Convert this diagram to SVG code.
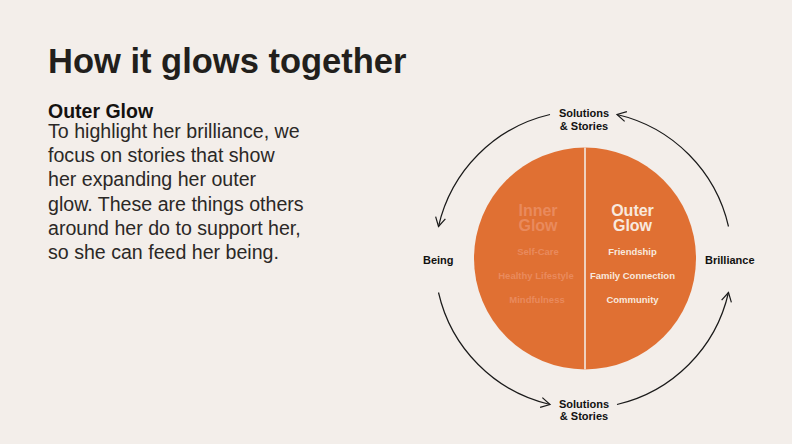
<svg xmlns="http://www.w3.org/2000/svg" width="792" height="444" viewBox="0 0 792 444">
  <style>
    .title { font-family: "Liberation Sans", Arial, sans-serif; font-weight: bold; font-size: 34.5px; fill: #221f1c; }
    .sub { font-family: "Liberation Sans", Arial, sans-serif; font-weight: bold; font-size: 19.5px; fill: #141210; }
    .body { font-family: "Liberation Sans", Arial, sans-serif; font-size: 19.6px; fill: #2b2826; }
    .lbl { font-family: "Liberation Sans", Arial, sans-serif; font-weight: bold; font-size: 11px; fill: #111; }
    .head { font-family: "Liberation Sans", Arial, sans-serif; font-weight: bold; font-size: 16px; text-anchor: middle; }
    .item { font-family: "Liberation Sans", Arial, sans-serif; font-weight: bold; font-size: 9.5px; text-anchor: middle; }
    .faded { fill: #e98a5d; }
    .bright { fill: #f8e9de; }
    .arc { fill: none; stroke: #1a1a1a; stroke-width: 1.2; }
  </style>
  <defs>
    <marker id="chev" markerUnits="userSpaceOnUse" markerWidth="14" markerHeight="14" viewBox="-12 -7 14 14" refX="0" refY="0" orient="auto">
      <path d="M -9 -5 L 0 0 L -9 5" fill="none" stroke="#1a1a1a" stroke-width="1.2"/>
    </marker>
  </defs>
  <rect width="792" height="444" fill="#f3eeea"/>

  <g id="heading">
    <text class="title" x="48" y="73">How it glows together</text>
    <text class="sub" x="48" y="118">Outer Glow</text>
    <text class="body" x="48" y="138">To highlight her brilliance, we</text>
    <text class="body" x="48" y="162.2">focus on stories that show</text>
    <text class="body" x="48" y="186.4">her expanding her outer</text>
    <text class="body" x="48" y="210.6">glow. These are things others</text>
    <text class="body" x="48" y="234.8">around her do to support her,</text>
    <text class="body" x="48" y="259">so she can feed her being.</text>
  </g>

  <g id="glow-circle">
    <circle cx="585" cy="258.5" r="111" fill="#e07033"/>
    <line x1="585" y1="147.5" x2="585" y2="369.5" stroke="#f3e9e2" stroke-width="1.6"/>
  </g>

  <g id="inner-glow">
    <text class="head faded" x="538" y="216">Inner</text>
    <text class="head faded" x="538" y="231">Glow</text>
    <text class="item faded" x="538" y="255">Self-Care</text>
    <text class="item faded" x="536" y="279">Healthy Lifestyle</text>
    <text class="item faded" x="537" y="303">Mindfulness</text>
  </g>

  <g id="outer-glow">
    <text class="head bright" x="632.5" y="216">Outer</text>
    <text class="head bright" x="632.5" y="231">Glow</text>
    <text class="item bright" x="632.5" y="255">Friendship</text>
    <text class="item bright" x="632.5" y="279">Family Connection</text>
    <text class="item bright" x="632.5" y="303">Community</text>
  </g>

  <g id="solutions-top">
    <text class="lbl" x="584" y="117" text-anchor="middle">Solutions</text>
    <text class="lbl" x="584" y="129.5" text-anchor="middle">&amp; Stories</text>
  </g>
  <g id="solutions-bottom">
    <text class="lbl" x="584" y="407.5" text-anchor="middle">Solutions</text>
    <text class="lbl" x="584" y="420" text-anchor="middle">&amp; Stories</text>
  </g>
  <g id="being">
    <text class="lbl" x="423" y="264">Being</text>
  </g>
  <g id="brilliance">
    <text class="lbl" x="705" y="264">Brilliance</text>
  </g>

  <g id="connectors">
    <path class="arc" d="M 550 114.5 A 149 149 0 0 0 438.5 226.5" marker-end="url(#chev)"/>
    <path class="arc" d="M 438.5 292.5 A 149 149 0 0 0 550 404.5" marker-end="url(#chev)"/>
    <path class="arc" d="M 617 404.5 A 149 149 0 0 0 728.5 292.5" marker-end="url(#chev)"/>
    <path class="arc" d="M 728.5 226.5 A 149 149 0 0 0 617 114.5" marker-end="url(#chev)"/>
  </g>
</svg>
